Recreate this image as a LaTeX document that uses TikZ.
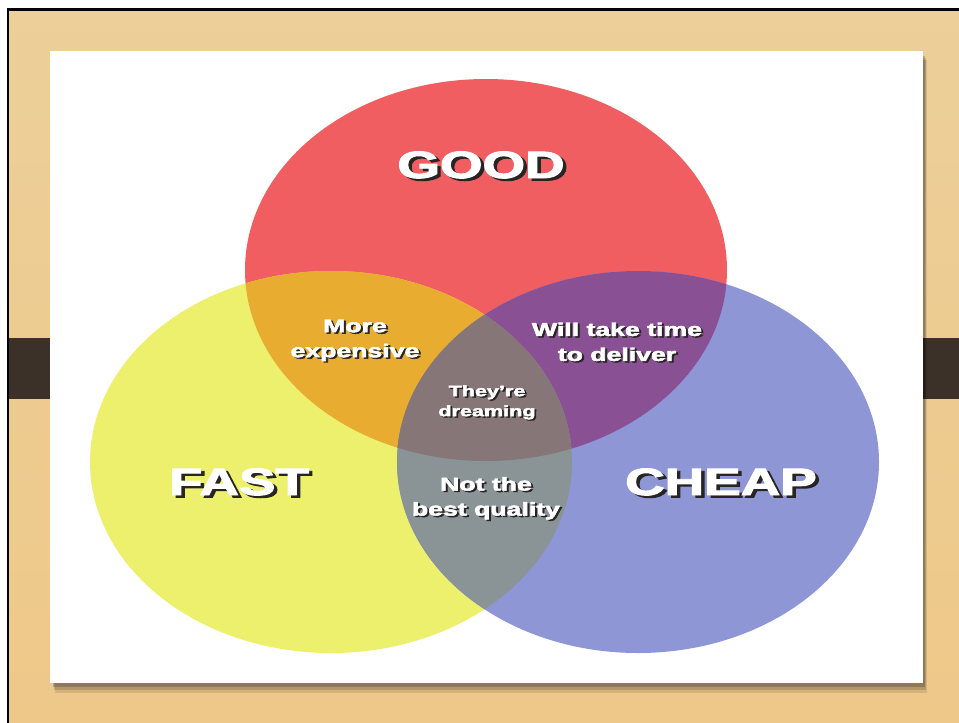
\documentclass[tikz,border=0pt]{standalone}
\usepackage{fontspec}
\setmainfont{Liberation Sans}[BoldFeatures={FakeBold=2.5}]
\usepackage{graphicx}

\definecolor{woodtop}{RGB}{236,207,153}
\definecolor{woodbot}{RGB}{238,200,137}
\definecolor{barbrown}{RGB}{60,49,40}
\definecolor{goodred}{RGB}{240,94,98}
\definecolor{fastyellow}{RGB}{236,240,108}
\definecolor{cheapblue}{RGB}{142,150,214}
\definecolor{goodfast}{RGB}{232,172,48}
\definecolor{goodcheap}{RGB}{138,80,148}
\definecolor{fastcheap}{RGB}{138,148,150}
\definecolor{allthree}{RGB}{134,118,120}
\definecolor{shadowgray}{RGB}{40,36,36}

% the three sets
\newcommand{\goodarea}{(486,270) ellipse [x radius=241, y radius=191]}
\newcommand{\fastarea}{(331,462) ellipse [x radius=241, y radius=191]}
\newcommand{\cheaparea}{(638,462) ellipse [x radius=241, y radius=191]}

% white stretched text with a drop shadow
\newcommand{\shtext}[2][2]{\scalebox{1.44}[1]{\rlap{\kern#1pt\raisebox{-#1pt}{\color{shadowgray}#2}}\color{white}#2}}

\begin{document}
\begin{tikzpicture}[x=1pt, y=-1pt,
bigword/.style={font=\fontsize{38}{42}\selectfont\bfseries, anchor=base, inner sep=0pt},
smallword/.style={font=\fontsize{18.5}{25}\selectfont\bfseries, align=center, inner sep=0pt},
tinyword/.style={font=\fontsize{15}{20}\selectfont\bfseries, align=center, inner sep=0pt}]
\useasboundingbox (0,0) rectangle (959,723);
\fill[white] (0,0) rectangle (959,723);

% board and frame
\shade[top color=woodtop, bottom color=woodbot] (8,9) rectangle (959,723);
\fill[barbrown] (8,338) rectangle (52,399);
\fill[barbrown] (922,338) rectangle (959,399);
\draw[line width=2.4pt] (8.2,723) -- (8.2,9.5) -- (959,9.5);

% card
\fill[black, opacity=.10] (55,60) rectangle (927,693);
\fill[black, opacity=.15] (54,58) rectangle (926,690);
\fill[black, opacity=.20] (53,56) rectangle (925,687);
\fill[white] (50,51) rectangle (923,683);

% venn
\fill[goodred] \goodarea;
\fill[fastyellow] \fastarea;
\fill[cheapblue] \cheaparea;
\begin{scope}
\clip \goodarea;
\fill[goodfast] \fastarea;
\fill[goodcheap] \cheaparea;
\end{scope}
\begin{scope}
\clip \fastarea;
\fill[fastcheap] \cheaparea;
\end{scope}
\begin{scope}
\clip \goodarea;
\clip \fastarea;
\fill[allthree] \cheaparea;
\end{scope}

% labels
\node[bigword] (good) at (481,178) {\shtext[2.4]{GOOD}};
\node[bigword] (fast) at (239,495) {\shtext[2.4]{FAST}};
\node[bigword] (cheap) at (721,495) {\shtext[2.4]{CHEAP}};
\node[smallword] (pricey) at (355,341) {\shtext[1.4]{More}\\\shtext[1.4]{expensive}};
\node[smallword] (slow) at (617,342.5) {\shtext[1.4]{Will take time}\\\shtext[1.4]{to deliver}};
\node[tinyword] (dream) at (487,403) {\shtext[1.3]{They’re}\\\shtext[1.3]{dreaming}};
\node[smallword] (shoddy) at (486,499) {\shtext[1.4]{Not the}\\\shtext[1.4]{best quality}};
\end{tikzpicture}
\end{document}
